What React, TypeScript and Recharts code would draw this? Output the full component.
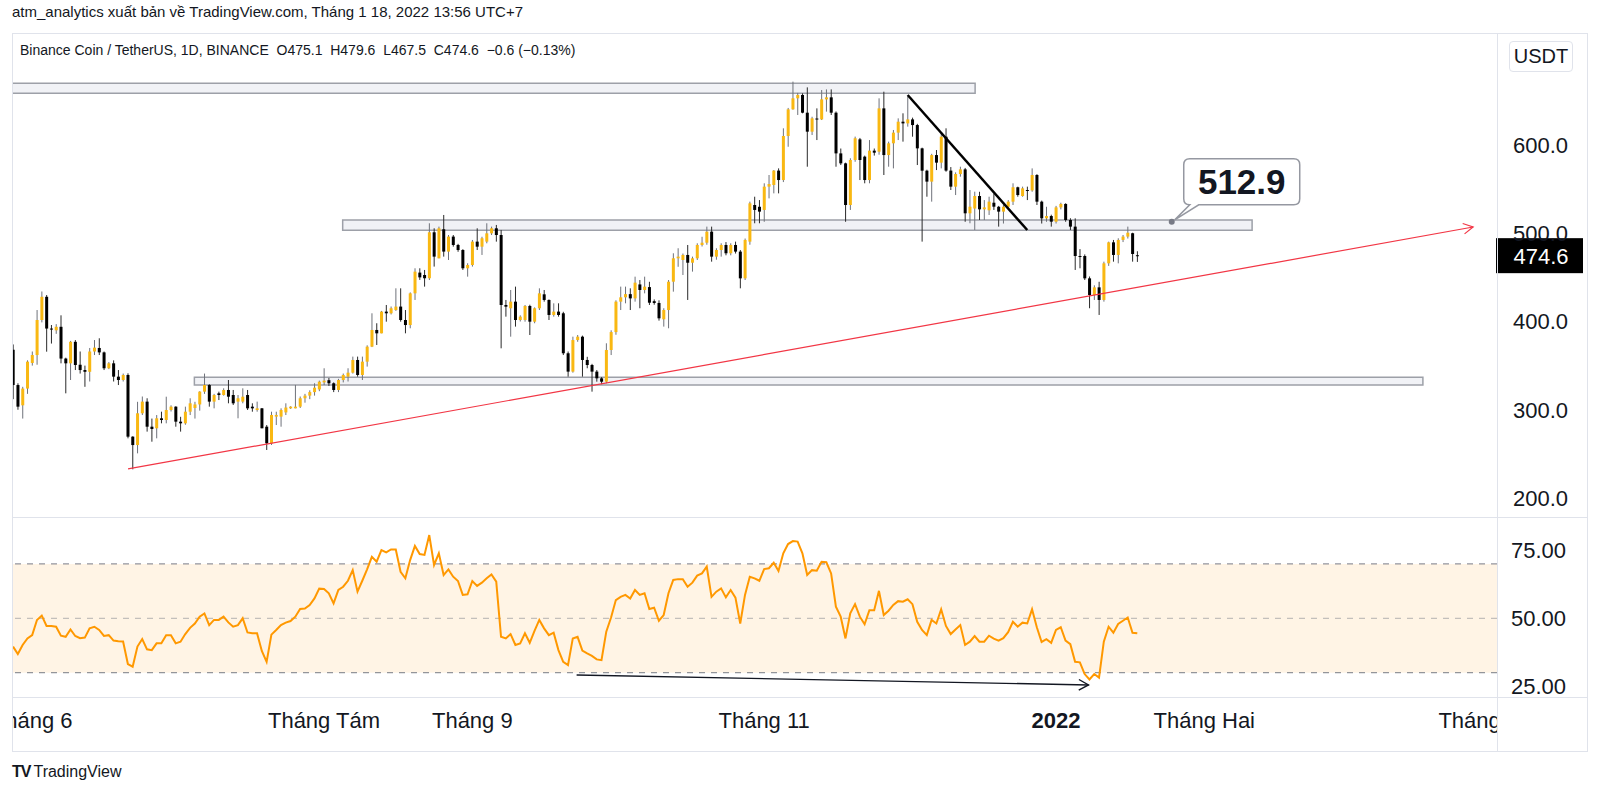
import React from 'react'
import {
  Bar,
  ComposedChart,
  Line,
  ReferenceArea,
  ReferenceDot,
  ReferenceLine,
  XAxis,
  YAxis,
} from 'recharts'

// ─── Data (day 0 = 01/06/2021, first candle 28/05/2021) ───────────────────────

const FIRST_DAY = -4

const OPEN = [
  368, 328, 305, 324, 353, 362, 401.7, 428, 392, 390,
  394, 358, 352.6, 377, 351, 345, 343, 366, 370, 365,
  347, 352.6, 337.5, 333.7, 339.4, 269.5, 260, 296, 309.2, 280.8,
  279, 290.3, 288.4, 299.7, 303.5, 286.5, 284.6, 297.8, 302, 306,
  320.5, 328, 309.2, 318.6, 316.7, 322.4, 316.7, 309.2, 309.2, 316.7,
  303.5, 299.7, 301.6, 280.8, 261.9, 292.2, 292.2, 297, 301.6, 301.6,
  303.5, 313, 316, 320, 323, 331, 333.5, 330, 322.4, 333.7,
  337.5, 342, 356.4, 339.4, 354.5, 371.5, 390.4, 386.6, 411.2, 409.3,
  413, 416.9, 401.7, 396, 431.9, 455.4, 452.7, 449, 501.1, 471.6,
  504.5, 479.2, 496.2, 486.7, 481, 460.3, 464, 490.5, 484.8, 490.5,
  499.9, 505.6, 498, 418.7, 415, 422.5, 401.7, 401.7, 417.6, 399.8,
  415, 430.8, 424.4, 407.4, 411.2, 409.3, 364, 343.2, 379, 382.8,
  356.4, 350.7, 343.2, 335.6, 331.8, 367.7, 388, 422.5, 427.4, 431,
  426.2, 442, 435.7, 439, 423, 421, 402.5, 413, 445.1, 471.6,
  469.7, 475.4, 466.6, 471.6, 486.7, 489.3, 501.8, 473.5, 481, 486.7,
  477.3, 486.7, 479.2, 448.9, 490.5, 532, 530, 526.4, 552.8, 554.7,
  571, 560.3, 610.2, 640.4, 652.9, 656.7, 636.6, 615.1, 630, 629,
  651.7, 654, 636.6, 590.5, 579.2, 532, 583, 606.4, 586.8, 560.3,
  593.6, 592.4, 641.5, 588.6, 601.9, 614, 626.4, 624.5, 629, 622.6,
  596.2, 570.9, 558.5, 588.6, 580, 609.4, 571, 552.8, 567.1, 572.4,
  522.6, 528, 542.2, 527.1, 526, 534.6, 530, 524.5, 530, 535.8,
  552.1, 542.2, 549, 548.5, 566, 535.8, 516.9, 519.5, 513.1, 529.3,
  533.2, 515, 507.5, 474.2, 474.2, 448.9, 430, 438.7, 424.4, 465.9,
  489.7, 475.4, 492.4, 496.2, 500, 475.1,
]

const HIGH = [
  374, 330, 326, 356, 366, 413, 434, 430, 396, 397,
  407, 359, 378, 379, 366, 350, 370, 379, 381, 366,
  354, 356, 345, 341, 341.3, 270, 309, 315, 313, 290,
  294, 297.8, 314.8, 305, 304, 292, 303.5, 313, 309, 321,
  341, 329, 318, 320.5, 324.3, 333.7, 322.4, 316.7, 324.3, 322.4,
  307.3, 309.2, 302, 282.7, 297.8, 297.8, 301.6, 307.3, 304, 328.1,
  315, 318, 322, 330, 333, 347, 336, 331, 335, 341,
  347, 360.2, 360.2, 360.2, 373, 409.3, 398, 412, 418.7, 417,
  437.6, 437.6, 413, 433, 460.3, 460.3, 458.4, 511.3, 505.6, 507.5,
  520.7, 498, 498, 488, 482, 466, 492.4, 505.6, 496, 511.3,
  507.5, 509.4, 503.7, 424.4, 435.7, 439.5, 407, 418.7, 419, 416,
  437.6, 435.7, 425, 420.6, 420.6, 411, 366, 382.8, 384.7, 384,
  360, 352, 345, 337, 375.3, 390, 424, 439.5, 439.5, 437.6,
  450.8, 447, 450.8, 445, 425, 424, 415, 447, 477.3, 483,
  477, 486.7, 473.5, 488.6, 496, 507.5, 507.5, 483, 488.6, 490,
  488.6, 490.5, 481, 494, 535.8, 541.4, 537.6, 556.6, 566, 571.6,
  573.5, 618.9, 642, 671.8, 659, 658.5, 665.3, 632, 641.5, 662.3,
  663, 663, 638, 596, 580, 585, 609.5, 608, 588, 605.6,
  596, 652.9, 660.4, 603.8, 617, 630.2, 635.9, 654.8, 631, 624,
  597, 572, 590, 594.3, 613.2, 618.9, 575, 569, 575.4, 574,
  549, 547.1, 547, 537.6, 541.4, 545, 531, 532, 537.6, 556.6,
  552.8, 552.8, 552.8, 573.5, 567, 537, 530, 521, 531, 534.6,
  534, 517, 516.9, 482, 476, 451, 441, 445, 467.8, 490.5,
  492.4, 494.3, 498, 507.5, 500.6, 479.6,
]

const LOW = [
  312, 300, 290, 318, 350, 351, 399, 365.8, 375, 386,
  352.6, 318.6, 333.7, 345, 341, 326, 332, 362, 362, 345,
  346, 332, 328, 332, 267.6, 232.5, 250.6, 294, 275.2, 263.8,
  267.6, 284.6, 284.6, 298, 280.8, 275.2, 283, 294, 290, 299,
  318, 303.5, 301.6, 311, 316, 307.3, 305.4, 290.3, 307.3, 299.7,
  297.8, 297.8, 279, 254.4, 260.1, 282.7, 280.8, 294, 301, 301.6,
  302, 308, 312, 316, 321, 328, 327, 320, 320, 331,
  332, 341, 337.5, 333.7, 348.9, 371, 373.4, 386.6, 399.8, 408,
  412, 399.8, 386.6, 392.3, 424.4, 447.1, 439.5, 447, 462.2, 471.6,
  473.5, 469.7, 484.8, 479, 458.4, 450.8, 462.2, 481, 475.4, 488.6,
  498, 490.5, 369.6, 405.5, 382.8, 394.2, 400, 399.8, 384.7, 398,
  413, 422.5, 401.7, 405.5, 405.5, 362, 337.5, 342, 377, 337.5,
  347, 320.5, 331.8, 329, 330, 362, 385, 413, 420.6, 413,
  422.5, 415, 431.9, 418.7, 419, 401, 394.2, 392.3, 433.8, 462,
  452.7, 424.4, 456.5, 469.7, 485, 487, 467.8, 470, 473.5, 475,
  475, 477, 437.6, 447, 487, 511.3, 511.3, 513, 539.5, 545.2,
  545.2, 558, 598, 640, 634, 635.9, 575.4, 611.3, 605.6, 628.3,
  637.8, 634, 575.4, 577.3, 513, 526.4, 581, 560.3, 556.6, 556.6,
  588, 589, 566, 575.4, 573.5, 605.6, 603.8, 620.8, 609.4, 577.3,
  490.5, 541.4, 535.8, 571.6, 573.5, 569.7, 549, 543.3, 564.1, 513,
  511.3, 503.7, 515, 515, 520.7, 526.4, 507.5, 511, 528, 532,
  541.4, 541.4, 537.6, 547, 532, 511, 513, 507.5, 511, 527,
  513, 503.7, 458.4, 460.3, 447, 415, 424.4, 407.4, 422.5, 463,
  467.8, 465.9, 490, 494, 467.8, 467.5,
]

const CLOSE = [
  328, 303.5, 324, 354.5, 362, 401.7, 428, 392, 391, 394,
  358, 352.6, 377, 350.7, 345, 343, 366, 370.4, 365, 347,
  352.6, 337.5, 333.7, 339.4, 269.5, 260, 296, 309.2, 280.8, 278.2,
  290.3, 288.4, 299.7, 303.5, 286.5, 284.6, 297.8, 307.3, 306, 320.5,
  328, 309.2, 316.7, 316.7, 322.4, 314.8, 307.3, 313, 314.8, 301.6,
  301.6, 301.6, 279, 261.9, 294.1, 294.1, 299.7, 302.5, 303.5, 303.5,
  313, 316, 320, 325, 331.8, 333, 330, 322.4, 333.7, 339.4,
  342, 356.4, 339.4, 354.5, 371.5, 390.4, 386.6, 411.2, 409.3, 415,
  416.9, 401.7, 396, 431.9, 456.5, 450, 449, 501.1, 473.5, 505.6,
  479.2, 496.2, 486.7, 481, 460.3, 464, 490.5, 484.8, 494.3, 499.9,
  505.6, 498, 418.7, 416.8, 422.5, 401.7, 405.5, 417.6, 399.8, 415,
  431.9, 424.4, 407.4, 411.2, 407.4, 364, 343.2, 379, 382.8, 356.4,
  350.7, 343.2, 335.6, 331.8, 367.7, 388, 422.5, 427.4, 431, 426.2,
  444, 435.7, 439.5, 421.3, 421, 403.6, 413, 445.1, 471.6, 473.5,
  475.4, 466.6, 471.6, 486.7, 489.3, 501.8, 473.5, 481, 486.7, 477.3,
  486.7, 479.2, 448.9, 492.4, 533.9, 526.4, 524.5, 552.8, 555.8, 571,
  560.3, 610.2, 640.4, 652.9, 656.7, 636.6, 615.1, 630.2, 629, 651.7,
  654, 636.6, 590.5, 579.2, 532, 583, 607.6, 583, 560.3, 593.6,
  591.3, 641.5, 588.6, 601.9, 614, 626.4, 624.5, 629, 622.6, 596.2,
  570.9, 558.5, 588.6, 580, 609.4, 571, 552.8, 567.1, 572.4, 522.6,
  530.1, 542.2, 527.1, 529.3, 535.8, 530.1, 524.5, 530, 535.8, 552.1,
  543.3, 550.9, 548.5, 566, 535.8, 516.9, 519.5, 513.1, 529.3, 533.2,
  515, 507.5, 474.2, 473.5, 448.9, 430, 438.7, 424.4, 465.9, 489.7,
  475.4, 492.4, 496.2, 500.6, 476.5, 474.6,
]

const RSI = [
  39.6, 36.9, 40.2, 42.6, 43.8, 49.4, 51.0, 47.2, 47.2, 46.9,
  43.6, 43.2, 45.9, 43.5, 42.7, 42.9, 46.3, 46.9, 45.7, 43.5,
  43.8, 41.8, 41.6, 41.5, 33.2, 32.2, 39.6, 42.4, 38.6, 38.3,
  40.8, 40.8, 43.8, 43.8, 40.8, 41.4, 44.2, 46.5, 48.1, 50.6,
  51.8, 47.5, 49.4, 49.4, 50.6, 48.5, 46.9, 47.5, 50.0, 44.8,
  44.5, 44.5, 38.0, 34.0, 44.0, 45.7, 47.5, 48.4, 49.0, 50.6,
  53.4, 53.6, 54.9, 57.3, 60.9, 60.8, 59.2, 55.5, 60.4, 61.6,
  63.8, 67.7, 59.8, 63.8, 68.0, 72.6, 70.8, 75.1, 74.2, 75.3,
  75.3, 67.1, 64.7, 71.4, 76.6, 73.6, 73.3, 80.6, 69.6, 73.9,
  65.9, 68.0, 65.3, 63.7, 58.6, 58.8, 63.7, 61.9, 63.1, 64.7,
  66.1, 63.5, 43.2, 42.6, 44.2, 40.2, 40.8, 44.5, 41.0, 45.4,
  49.4, 46.3, 43.8, 44.7, 38.3, 34.0, 32.8, 42.6, 43.2, 38.1,
  37.1, 36.2, 34.9, 34.6, 45.1, 50.3, 56.7, 57.9, 58.6, 57.3,
  60.4, 58.6, 59.2, 53.4, 53.9, 49.1, 51.2, 59.2, 64.1, 64.4,
  64.4, 61.6, 63.1, 65.7, 66.5, 69.0, 57.9, 59.8, 61.0, 57.7,
  60.4, 57.6, 48.1, 58.6, 65.3, 64.7, 63.8, 68.1, 68.4, 70.4,
  67.4, 73.9, 77.3, 78.4, 78.2, 73.9, 65.9, 67.7, 67.5, 70.8,
  70.6, 66.5, 54.3, 50.6, 42.6, 51.8, 55.2, 50.6, 47.8, 53.0,
  53.0, 60.1, 51.2, 52.8, 54.9, 56.3, 56.1, 57.0, 55.2, 48.7,
  45.7, 43.8, 49.4, 48.1, 53.3, 47.2, 44.2, 45.9, 47.5, 40.2,
  41.4, 43.5, 41.4, 41.4, 43.6, 42.5, 41.8, 42.7, 44.9, 48.7,
  46.9, 48.4, 48.1, 53.3, 46.7, 41.3, 42.3, 41.0, 45.7, 46.7,
  41.8, 40.5, 34.0, 33.8, 29.5, 27.5, 29.5, 28.2, 41.4, 46.9,
  44.7, 47.9, 49.1, 50.3, 44.7, 44.5,
]

// Axes
const X_TICKS = [0, 61, 92, 153, 214, 245, 304]
const X_LABELS = ['Tháng 6', 'Tháng Tám', 'Tháng 9', 'Tháng 11', '2022', 'Tháng Hai', 'Tháng Tư']
const PRICE_TICKS = [200, 300, 400, 500, 600]
const RSI_TICKS = [25, 50, 75]
const RSI_BANDS = [70, 50, 30]

const X_MIN = -4.222
const X_MAX = 306.19
const P_MIN = 178.47
const P_MAX = 726.91
const R_MIN = 21.07
const R_MAX = 87.24

const LAST_PRICE = 474.6
const CALLOUT_PRICE = 512.9
const CALLOUT_DAY = 238.2

// ─── Style ────────────────────────────────────────────────────────────────────

const UP = '#f9b812'
const DOWN = '#000000'
const WICK = '#6f727a'
const TEXT = '#131722'
const BORDER = '#e0e3eb'
const FONT = '"Liberation Sans", Arial, sans-serif'

const data = OPEN.map((open, i) => ({
  day: FIRST_DAY + i,
  open,
  high: HIGH[i],
  low: LOW[i],
  close: CLOSE[i],
  range: [LOW[i], HIGH[i]],
  rsi: RSI[i],
}))

// ─── Shapes ───────────────────────────────────────────────────────────────────

function Candle(props: any) {
  const { x, y, width, height, payload } = props
  if (!payload) return null
  const { open, close, high, low } = payload
  const top = Math.min(y, y + height)
  const h = Math.abs(height)
  const k = h / (high - low || 1)
  const up = close >= open
  const bodyTop = top + (high - Math.max(open, close)) * k
  const bodyH = Math.max(1, Math.abs(close - open) * k)
  const cx = x + width / 2
  return (
    <g>
      <line x1={cx} x2={cx} y1={top} y2={top + h} stroke={up ? WICK : '#2a2a2a'} strokeWidth={1} />
      <rect x={x} y={bodyTop} width={width} height={bodyH} fill={up ? UP : DOWN} />
    </g>
  )
}

function ArrowLine(props: any) {
  const { x1, y1, x2, y2, color, width } = props
  const a = Math.atan2(y2 - y1, x2 - x1)
  const L = 11
  const s = 0.5
  const p1 = `${x2 - L * Math.cos(a - s)},${y2 - L * Math.sin(a - s)}`
  const p2 = `${x2 - L * Math.cos(a + s)},${y2 - L * Math.sin(a + s)}`
  return (
    <g>
      <line x1={x1} y1={y1} x2={x2} y2={y2} stroke={color} strokeWidth={width} />
      <polyline points={`${p1} ${x2},${y2} ${p2}`} fill="none" stroke={color} strokeWidth={width} />
    </g>
  )
}

function Callout(props: any) {
  const { cx, cy } = props
  const bx = cx + 12
  const by = cy - 63
  const w = 116
  const h = 46
  const r = 6
  const b = by + h
  const d = `M ${bx + r} ${by} H ${bx + w - r} Q ${bx + w} ${by} ${bx + w} ${by + r} V ${b - r} Q ${bx + w} ${b} ${bx + w - r} ${b} H ${cx + 27} L ${cx + 3} ${cy - 2} L ${cx + 18} ${b} H ${bx + r} Q ${bx} ${b} ${bx} ${b - r} V ${by + r} Q ${bx} ${by} ${bx + r} ${by} Z`
  return (
    <g>
      <path d={d} fill="#ffffff" stroke="#9598a1" strokeWidth={1.5} />
      <circle cx={cx} cy={cy} r={3} fill="#787b86" />
      <text x={bx + w / 2} y={by + h / 2} dy="0.36em" textAnchor="middle" fontSize={35} fontWeight={700} fill={TEXT}>
        {CALLOUT_PRICE.toFixed(1)}
      </text>
    </g>
  )
}

function PriceTag(props: any) {
  const { cx, cy } = props
  return (
    <g>
      <rect x={cx - 1} y={cy - 17.5} width={87} height={35} fill="#000000" />
      <text x={cx + 44} y={cy} dy="0.36em" textAnchor="middle" fontSize={22} fill="#ffffff">
        {LAST_PRICE.toFixed(1)}
      </text>
    </g>
  )
}

function PriceTick(props: any) {
  const { x, y, payload } = props
  return (
    <text x={x} y={y} dy="0.36em" textAnchor="start" fontSize={22} fill={TEXT}>
      {Number(payload.value).toFixed(1)}
    </text>
  )
}

function RsiTick(props: any) {
  const { x, y, payload } = props
  return (
    <text x={x} y={y} dy="0.36em" textAnchor="start" fontSize={22} fill={TEXT}>
      {Number(payload.value).toFixed(2)}
    </text>
  )
}

function TimeTick(props: any) {
  const { x, y, payload } = props
  const label = X_LABELS[X_TICKS.indexOf(payload.value)]
  return (
    <text
      x={x}
      y={y + 31}
      textAnchor="middle"
      fontSize={22}
      fontWeight={label === '2022' ? 700 : 400}
      fill={TEXT}
      clipPath="url(#time-clip)"
    >
      {label}
    </text>
  )
}

// ─── Component ────────────────────────────────────────────────────────────────

const rectStyle = { fill: '#e6e8ee', fillOpacity: 0.55, stroke: '#9da0a8', strokeWidth: 1.5 }

export default function App(): React.JSX.Element {
  const line = (style: React.CSSProperties) => (
    <div style={{ position: 'absolute', background: BORDER, ...style }} />
  )

  return (
    <div
      style={{
        position: 'absolute',
        left: 0,
        top: 0,
        width: 1600,
        height: 793,
        background: '#ffffff',
        fontFamily: FONT,
        color: TEXT,
        overflow: 'hidden',
      }}
    >
      {/* Bandeau du haut */}
      <div style={{ position: 'absolute', left: 12, top: 3, fontSize: 15, whiteSpace: 'pre' }}>
        atm_analytics xuất bản về TradingView.com, Tháng 1 18, 2022 13:56 UTC+7
      </div>

      {/* Panneau prix */}
      <div style={{ position: 'absolute', left: 0, top: 0 }}>
        <ComposedChart width={1600} height={517} data={data} margin={{ top: 33, right: 0, bottom: 0, left: 12 }}>
          <XAxis dataKey="day" type="number" domain={[X_MIN, X_MAX]} allowDataOverflow hide />
          <YAxis
            orientation="right"
            width={103}
            type="number"
            domain={[P_MIN, P_MAX]}
            ticks={PRICE_TICKS}
            interval={0}
            allowDataOverflow
            axisLine={false}
            tickLine={false}
            tickSize={0}
            tickMargin={16}
            tick={<PriceTick />}
          />
          <ReferenceArea x1={-8} x2={197.1} y1={658.7} y2={670.1} ifOverflow="hidden" {...rectStyle} />
          <ReferenceArea x1={64.9} x2={255.0} y1={503.5} y2={515.0} ifOverflow="hidden" {...rectStyle} />
          <ReferenceArea x1={33.9} x2={290.7} y1={328.0} y2={336.8} ifOverflow="hidden" {...rectStyle} />
          <Bar dataKey="range" barSize={3} shape={<Candle />} isAnimationActive={false} />
          <ReferenceLine
            segment={[{ x: 20.03, y: 232.9 }, { x: 301.2, y: 507.1 }]}
            shape={(p: any) => <ArrowLine {...p} color="#f23645" width={1.2} />}
          />
          <ReferenceLine
            segment={[{ x: 183.0, y: 656.7 }, { x: 208.0, y: 503.7 }]}
            stroke="#000000"
            strokeWidth={2.5}
          />
          <ReferenceDot x={CALLOUT_DAY} y={CALLOUT_PRICE} shape={(p: any) => <Callout {...p} />} />
          <ReferenceDot x={X_MAX} y={LAST_PRICE} shape={(p: any) => <PriceTag {...p} />} />
        </ComposedChart>
      </div>

      {/* Panneau RSI + axe du temps */}
      <div style={{ position: 'absolute', left: 0, top: 517 }}>
        <ComposedChart width={1600} height={234} data={data} margin={{ top: 0, right: 0, bottom: 0, left: 12 }}>
          <defs>
            <clipPath id="time-clip">
              <rect x={12} y={180} width={1485} height={54} />
            </clipPath>
          </defs>
          <XAxis
            dataKey="day"
            type="number"
            domain={[X_MIN, X_MAX]}
            allowDataOverflow
            ticks={X_TICKS}
            interval={0}
            height={54}
            axisLine={false}
            tickLine={false}
            tickSize={0}
            tickMargin={0}
            tick={<TimeTick />}
          />
          <YAxis
            orientation="right"
            width={103}
            type="number"
            domain={[R_MIN, R_MAX]}
            ticks={RSI_TICKS}
            interval={0}
            allowDataOverflow
            axisLine={false}
            tickLine={false}
            tickSize={0}
            tickMargin={14}
            tick={<RsiTick />}
          />
          <ReferenceArea y1={30} y2={70} fill="#ff9800" fillOpacity={0.1} stroke="none" />
          {RSI_BANDS.map((v) => (
            <ReferenceLine
              key={v}
              y={v}
              stroke="#787b86"
              strokeOpacity={v === 50 ? 0.55 : 1}
              strokeDasharray="6 6"
              strokeWidth={1}
            />
          ))}
          <Line
            dataKey="rsi"
            type="linear"
            stroke="#ff9800"
            strokeWidth={2}
            dot={false}
            activeDot={false}
            isAnimationActive={false}
          />
          <ReferenceLine
            segment={[{ x: 113.8, y: 29.15 }, { x: 220.8, y: 25.5 }]}
            shape={(p: any) => <ArrowLine {...p} color="#131722" width={1.4} />}
          />
        </ComposedChart>
      </div>

      {/* Cadre */}
      {line({ left: 12, top: 33, width: 1575, height: 1 })}
      {line({ left: 12, top: 751, width: 1575, height: 1 })}
      {line({ left: 12, top: 33, width: 1, height: 719 })}
      {line({ left: 1587, top: 33, width: 1, height: 719 })}
      {line({ left: 1497, top: 33, width: 1, height: 719 })}
      {line({ left: 12, top: 517, width: 1575, height: 1 })}
      {line({ left: 12, top: 697, width: 1575, height: 1 })}

      {/* En-tête symbole */}
      <div style={{ position: 'absolute', left: 20, top: 41, fontSize: 14, whiteSpace: 'pre', lineHeight: '18px' }}>
        {'Binance Coin / TetherUS, 1D, BINANCE  O475.1  H479.6  L467.5  C474.6  −0.6 (−0.13%)'}
      </div>

      {/* Devise */}
      <div
        style={{
          position: 'absolute',
          left: 1509,
          top: 41,
          width: 62,
          height: 29,
          border: `1px solid ${BORDER}`,
          borderRadius: 4,
          background: '#ffffff',
          fontSize: 20,
          lineHeight: '29px',
          textAlign: 'center',
        }}
      >
        USDT
      </div>

      {/* Logo */}
      <div style={{ position: 'absolute', left: 12, top: 762, fontSize: 16, lineHeight: '20px', whiteSpace: 'pre' }}>
        <span style={{ fontWeight: 900, letterSpacing: -1 }}>TV</span>
        <span style={{ marginLeft: 3 }}>TradingView</span>
      </div>
    </div>
  )
}
